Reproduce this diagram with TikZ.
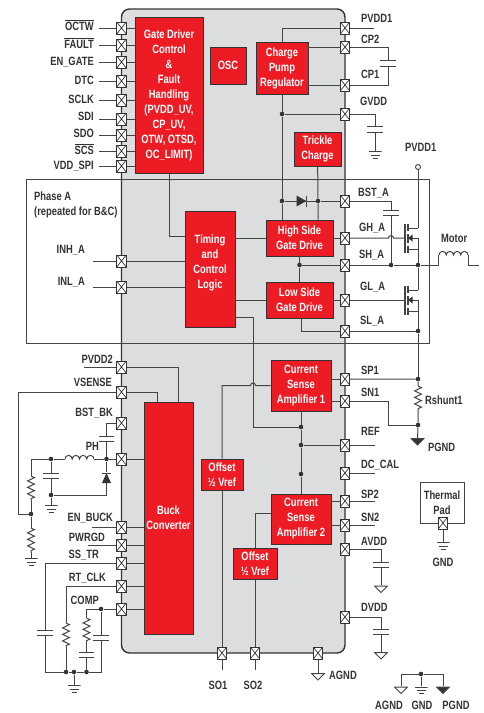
\documentclass[tikz,border=0pt]{standalone}
\usepackage{fontspec}
\setmainfont[FakeStretch=0.78]{Liberation Sans}
\usetikzlibrary{decorations.pathmorphing}
\definecolor{chipred}{HTML}{ED1C24}
\definecolor{chipgray}{HTML}{DCDDDF}
\definecolor{wirecol}{HTML}{444444}
\definecolor{inkcol}{HTML}{333333}
\newcommand{\ppb}{path picture bounding box}
\newcommand{\chipfont}{\fontsize{12}{15}\selectfont\bfseries}

\begin{document}
\begin{tikzpicture}[x=1pt,y=-1pt,
  wire/.style={draw=wirecol,line width=1pt},
  redblock/.style={draw=inkcol,line width=0.9pt,fill=chipred,text=white,font=\chipfont,align=center,inner sep=0},
  iopad/.style={draw=inkcol,line width=0.8pt,fill=white,inner sep=0,minimum width=9.5,minimum height=12,
    path picture={\draw[inkcol,line width=0.7pt] (\ppb.south west) -- (\ppb.north east) (\ppb.north west) -- (\ppb.south east);}},
  pinlabel/.style={font=\chipfont,text=inkcol,inner sep=0,text height=8.5pt,text depth=2pt,align=left},
  junct/.style={circle,fill=inkcol,inner sep=0,minimum size=4.6},
  capv/.style={inner sep=0,minimum width=15,minimum height=5,
    append after command={(\tikzlastnode.north west) edge[wire] (\tikzlastnode.north east) (\tikzlastnode.south west) edge[wire] (\tikzlastnode.south east)}},
  resv/.style={inner sep=0,minimum width=10,minimum height=24,
    path picture={\draw[wire,decorate,decoration={zigzag,segment length=6.5pt,amplitude=3.4pt}] (\ppb.north) -- (\ppb.south);}},
  indh/.style={inner sep=0,minimum width=29,minimum height=13,
    path picture={\draw[wire] (\ppb.west) arc (180:360:3.625) arc (180:360:3.625) arc (180:360:3.625) arc (180:360:3.625);}},
  gndbars/.style={inner sep=0,minimum width=13,minimum height=8,
    path picture={\draw[wire] ([shift={(0,.5)}]\ppb.north west) -- ([shift={(0,.5)}]\ppb.north east)
      ([shift={(2,4)}]\ppb.north west) -- ([shift={(-2,4)}]\ppb.north east)
      ([shift={(4,7.2)}]\ppb.north west) -- ([shift={(-4,7.2)}]\ppb.north east);}},
  gndtri/.style={inner sep=0,minimum width=14,minimum height=8,
    path picture={\draw[wirecol,line width=0.9pt,fill=#1] ([shift={(.7,.6)}]\ppb.north west) -- ([shift={(-.7,.6)}]\ppb.north east) -- ([shift={(0,-1)}]\ppb.south) -- cycle;}},
  nfet/.pic={
    \draw[wire,line width=1.1pt] (-13,-14) -- (-13,15);
    \draw[wire,line width=1.1pt] (-10,-14) -- (-10,-7) (-10,-4) -- (-10,5) (-10,8) -- (-10,15);
    \draw[wire] (-10,-10) -- (0,-10) (-10,0) -- (0,0) (-10,11) -- (0,11) -- (0,0);
    \fill[inkcol] (-10,0) -- (-5.5,-3.5) -- (-5.5,3.5) -- cycle;
    \coordinate (-g) at (-13,0);
    \coordinate (-d) at (0,-10);
    \coordinate (-s) at (0,0);
  }]
\useasboundingbox (0,0) rectangle (484,713);

\draw[fill=chipgray,draw=inkcol,line width=1.4pt,rounded corners=8pt] (121.5,9) rectangle (345,653);
\draw[draw=wirecol,line width=0.8pt] (26,179.5) rectangle (429,343);

\node[redblock,minimum width=68,minimum height=156] (gatedrv) at (169,95) {Gate Driver\\Control\\\&\\Fault\\Handling\\(PVDD\_UV,\\CP\_UV,\\OTW, OTSD,\\OC\_LIMIT)};
\node[redblock,minimum width=36,minimum height=37] (osc) at (228,65.5) {OSC};
\node[redblock,minimum width=52,minimum height=52] (pump) at (282,68) {Charge\\Pump\\Regulator};
\node[redblock,minimum width=47,minimum height=34] (trickle) at (317.5,149) {Trickle\\Charge};
\node[redblock,minimum width=67,minimum height=36] (hside) at (299.5,238) {High Side\\Gate Drive};
\node[redblock,minimum width=67,minimum height=36] (lside) at (299.5,300) {Low Side\\Gate Drive};
\node[redblock,minimum width=50,minimum height=116] (timing) at (210,269) {Timing\\and\\Control\\Logic\\~};
\node[redblock,minimum width=60,minimum height=51] (csa1) at (301,385.5) {Current\\Sense\\Amplifier 1};
\node[redblock,minimum width=60,minimum height=50] (csa2) at (301,519) {Current\\Sense\\Amplifier 2};
\node[redblock,minimum width=42,minimum height=31] (off1) at (222,474.5) {Offset\\½ Vref};
\node[redblock,minimum width=44,minimum height=31] (off2) at (255,563.5) {Offset\\½ Vref};
\node[redblock,minimum width=49,minimum height=232] (buck) at (168.5,518) {Buck\\Converter};
\node[draw=wirecol,line width=0.9pt,fill=white,text=inkcol,font=\chipfont,align=center,inner sep=0,minimum width=44,minimum height=41] (thermal) at (442,502.5) {Thermal\\Pad};

\foreach \nm/\yy in {octw/28,fault/45,engate/62,dtc/81,sclk/100,sdi/119,sdo/135,scs/151,vddspi/166,inh/261,inl/287,pvddb/367,vsense/392,bstbk/423,ph/459,enbuck/527,pwrgd/545,sstr/563,rtclk/586,comp/609}
  \node[iopad] (\nm) at (121.5,\yy) {};
\foreach \nm/\yy in {pvdd/28,cp2/47,cp1/85,gvdd/114,bsta/201,gha/238,sha/265,gla/300,sla/331,sp1/379,sn1/401,ref/445,dccal/473,sp2/501,sn2/525,avdd/549,dvdd/617}
  \node[iopad] (\nm) at (345,\yy) {};
\foreach \nm/\xx in {so1/222,so2/255,agnd/318}
  \node[iopad] (\nm) at (\xx,653) {};
\node[iopad] (tpad) at (443,523) {};

\foreach \nm/\xx/\yy in {gvj/282/114,bstj/282/201,trkj/318/201,shin/299.5/265,shj/391/265,motj/418/265,slj/418/331,sp1j/418/379,pgj/418/425,csj/301/427,refj/301/445,dcj/301/474,legj/421/674,phj/106.5/459,phcj/51/459,phgj/51/495,fbj/31/514,rtj/66/672,botj/74/672,cmpj/86.5/672,compj/101/609}
  \node[junct] (\nm) at (\xx,\yy) {};

\foreach \nm/\xx/\yy/\anch/\txt in {octw/94/27/east/{$\overline{\mbox{OCTW}}$},fault/94/45/east/{$\overline{\mbox{FAULT}}$},engate/94/62/east/EN\_GATE,dtc/94/81/east/DTC,sclk/94/100/east/SCLK,sdi/94/117/east/SDI,sdo/94/134/east/SDO,scs/94/151/east/{$\overline{\mbox{SCS}}$},vddspi/94/166/east/VDD\_SPI,
  inh/85/250/east/INH\_A,inl/85/282/east/INL\_A,pvddb/113/360/east/PVDD2,vsense/112/383/east/VSENSE,bstbk/113/413/east/BST\_BK,ph/99/447/east/PH,enbuck/113/518/east/EN\_BUCK,pwrgd/105/538/east/PWRGD,sstr/99/555/east/SS\_TR,rtclk/106/578/east/RT\_CLK,comp/99/601/east/COMP,
  pvdd/361/19/west/PVDD1,cp2/361/40/west/CP2,cp1/361/75/west/CP1,gvdd/360/102/west/GVDD,bsta/358/193/west/BST\_A,gha/359/228/west/GH\_A,sha/359/255/west/SH\_A,gla/360/287/west/GL\_A,sla/360/321/west/SL\_A,sp1/361/371/west/SP1,sn1/361/393/west/SN1,
  ref/361/432/west/REF,dccal/361/465/west/DC\_CAL,sp2/361/495/west/SP2,sn2/361/518/west/SN2,avdd/361/542/west/AVDD,dvdd/361/608/west/DVDD,
  top/405/148/west/PVDD1,motor/441/239/west/Motor,rsh/425/401/west/Rshunt1,pg/428/448/west/PGND,tg/443/563/center/GND,so1/218/686/center/SO1,so2/253/686/center/SO2,ag/329/676/west/AGND,lega/389/706.5/center/AGND,legg/422/706.5/center/GND,legp/456/706.5/center/PGND}
  \node[pinlabel,anchor=\anch] (\nm lbl) at (\xx,\yy) {\txt};
\node[pinlabel,anchor=north west,text height=,text depth=] (phase lbl) at (34,192) {Phase A\\(repeated for B\&C)};

\foreach \nm in {octw,fault,engate,dtc,sclk,sdi,sdo,scs,vddspi} {
  \coordinate (\nm end) at (99,0 |- \nm);
  \draw[wire] (\nm end) -- (\nm);
  \draw[wire] (\nm) -- (\nm -| gatedrv.west);
}
\foreach \nm in {enbuck,pwrgd,sstr,rtclk,comp,ph}
  \draw[wire] (\nm) -- (\nm -| buck.west);
\foreach \nm/\xx in {enbuck/92,pwrgd/88,inh/93,inl/93,pvddb/84} {
  \coordinate (\nm end) at (\xx,0 |- \nm);
  \draw[wire] (\nm end) -- (\nm);
}
\foreach \nm in {ref,dccal,sp2,sn2} {
  \coordinate (\nm end) at (375,0 |- \nm);
  \draw[wire] (\nm) -- (\nm end);
}
\coordinate (pvdd end) at (374,0 |- pvdd);
\draw[wire] (pvdd end) -- (pvdd) -| (pump);
\draw[wire] (pump.east |- cp2) -- (cp2);
\draw[wire] (pump.east |- cp1) -- (cp1);
\draw[wire] (pump) -- (gvj) -- (bstj) -- (bstj |- hside.north);
\draw[wire] (gvj) -- (gvdd);
\draw[wire] (bstj) -- (trkj) -- (bsta);
\draw[wire] (trickle) -- (trkj) -- (trkj |- hside.north);
\node[inner sep=0,minimum width=11,minimum height=11,path picture={\fill[inkcol] (\ppb.north west) -- (\ppb.south west) -- ([shift={(-1.2,0)}]\ppb.east) -- cycle; \draw[wire,line width=1pt] ([shift={(-.8,0)}]\ppb.north east) -- ([shift={(-.8,0)}]\ppb.south east);}] (bstdiode) at (302,201) {};

\node[capv] (cpcap) at (388,63.5) {};
\draw[wire] (cp2) -| (cpcap);
\draw[wire] (cp1) -| (cpcap);
\node[capv] (gvcap) at (375,129.5) {};
\node[gndbars] (gvgnd) at (375,155) {};
\draw[wire] (gvdd) -| (gvcap) -- (gvgnd);

\node[capv] (bstcap) at (391,213) {};
\draw[wire] (bsta) -| (bstcap) -- (shj);
\pic (hfet) at (418,238) {nfet};
\pic (lfet) at (418,300) {nfet};
\coordinate (gjump) at (388.5,238);
\draw[wire] (gha) -- (gjump) arc (180:360:2.5) -- (hfet-g);
\draw[wire] (gla) -- (lfet-g);
\node[circle,draw=wirecol,line width=0.9pt,fill=white,inner sep=0,minimum size=5] (pvddc) at (418,167) {};
\draw[wire] (pvddc) -- (hfet-d);
\draw[wire] (hfet-s) -- (motj) -- (lfet-d);
\draw[wire] (lfet-s) -- (slj) -- (sp1j);
\draw[wire] (hside.east) -- (gha);
\draw[wire] (lside.east) -- (gla);
\draw[wire] (hside) -- (shin) -- (lside);
\draw[wire] (sha) -- (shin);
\draw[wire] (sha) -- (shj) -- (motj);
\node[indh] (motl) at (453.5,255) {};
\coordinate (motc) at (motl.west |- motj);
\coordinate (motd) at (motl.east |- motj);
\coordinate (motor end) at (479,265);
\draw[wire] (motj) -- (motc) -- (motl.west);
\draw[wire] (motl.east) -- (motd) -- (motor end);
\coordinate (lsout) at (301,318);
\draw[wire] (lsout) |- (sla);
\draw[wire] (sla) -- (slj);

\node[resv] (rshunt) at (418,398) {};
\node[gndtri=inkcol] (pgtri) at (417.5,442) {};
\coordinate (snc) at (388,401);
\draw[wire] (sp1) -- (sp1j) -- (rshunt) -- (pgj) -- (pgtri);
\draw[wire] (sn1) -- (snc) |- (pgj);

\coordinate (tmin) at (185,236);
\coordinate (tmout) at (235,317);
\coordinate (tmc) at (253,427);
\coordinate (cjump) at (255.5,385.5);
\coordinate (cscorner) at (222,385.5);
\coordinate (cs2in) at (271,513);
\draw[wire] (gatedrv) |- (tmin);
\draw[wire] (timing.east |- hside) -- (hside);
\draw[wire] (timing.east |- lside) -- (lside);
\draw[wire] (inh) -- (inh -| timing.west);
\draw[wire] (inl) -- (inl -| timing.west);
\draw[wire] (tmout) -| (tmc) -- (csj);
\draw[wire] (csa1.west) -- (cjump) arc (360:180:2.5) -- (cscorner) -- (off1);
\draw[wire] (csa1) -- (csj) -- (refj) -- (dcj) -- (csa2);
\draw[wire] (refj) -- (ref);
\draw[wire] (cs2in) -| (off2);
\draw[wire] (off1) -- (so1);
\draw[wire] (off2) -- (so2);
\draw[wire] (csa1.east |- sp1) -- (sp1);
\draw[wire] (csa1.east |- sn1) -- (sn1);
\draw[wire] (csa2.east |- sp2) -- (sp2);
\draw[wire] (csa2.east |- sn2) -- (sn2);

\node[capv] (avcap) at (381,565) {};
\node[gndtri=white] (avtri) at (381,589.5) {};
\node[capv] (dvcap) at (381,632) {};
\node[gndtri=white] (dvtri) at (381,656) {};
\draw[wire] (avdd) -| (avcap) -- (avtri);
\draw[wire] (dvdd) -| (dvcap) -- (dvtri);
\node[gndbars] (tgnd) at (443,546) {};
\draw[wire] (tpad) -- (tgnd);

\coordinate (so1 end) at (222,670);
\coordinate (so2 end) at (255,670);
\draw[wire] (so1) -- (so1 end);
\draw[wire] (so2) -- (so2 end);
\node[gndtri=white] (agtri) at (318,677) {};
\draw[wire] (agnd) -- (agtri);

\node[gndtri=white] (lga) at (401,690.5) {};
\node[gndbars] (lgg) at (421,690.5) {};
\node[gndtri=inkcol] (lgp) at (443,690.5) {};
\draw[wire] (lga) -- (lga |- legj) -- (legj) -- (lgp |- legj) -- (lgp);
\draw[wire] (legj) -- (lgg);

\coordinate (bkpv) at (178,402);
\coordinate (bkvs) at (157,402);
\coordinate (vsc) at (18,392);
\draw[wire] (pvddb) -| (bkpv);
\draw[wire] (vsense) -| (bkvs);
\draw[wire] (vsense) -- (vsc) |- (fbj);
\node[capv] (bkcap) at (106.5,439) {};
\node[indh] (phind) at (79.5,459) {};
\node[capv] (phcap) at (51,476) {};
\node[gndbars] (phgnd) at (51,509) {};
\node[resv] (fbr1) at (31,488) {};
\node[resv] (fbr2) at (31,540) {};
\node[gndbars] (fbgnd) at (31,562) {};
\node[inner sep=0,minimum width=9,minimum height=11,path picture={\fill[inkcol] (\ppb.south west) -- (\ppb.south east) -- ([shift={(0,1)}]\ppb.north) -- cycle; \draw[wire] ([shift={(0,1.5)}]\ppb.north west) -- ([shift={(0,1.5)}]\ppb.north east);}] (zener) at (106.5,477.5) {};
\coordinate (fbc) at (31,459);
\draw[wire] (bstbk) -| (bkcap) -- (phj);
\draw[wire] (ph) -- (phj) -- (phind) -- (phcj) -- (fbc) -- (fbr1) -- (fbj) -- (fbr2) -- (fbgnd);
\draw[wire] (phcj) -- (phcap) -- (phgj) -- (phgnd);
\draw[wire] (phgj) -| (zener);
\draw[wire] (zener) -- (phj);

\node[capv] (sscap) at (45,633) {};
\node[resv] (rtres) at (66,635) {};
\node[resv] (cres) at (86.5,630) {};
\node[capv] (ccap) at (86.5,655) {};
\node[capv] (hfcap) at (101,638) {};
\node[gndbars] (botgnd) at (74,689) {};
\coordinate (botl) at (45,672);
\coordinate (botr) at (101,672);
\draw[wire] (sstr) -| (sscap) -- (botl) -- (rtj) -- (botj) -- (cmpj) -- (botr) -- (hfcap) -- (compj);
\draw[wire] (rtclk) -| (rtres) -- (rtj);
\draw[wire] (comp) -- (compj) -| (cres) -- (ccap) -- (cmpj);
\draw[wire] (botj) -- (botgnd);
\end{tikzpicture}
\end{document}
